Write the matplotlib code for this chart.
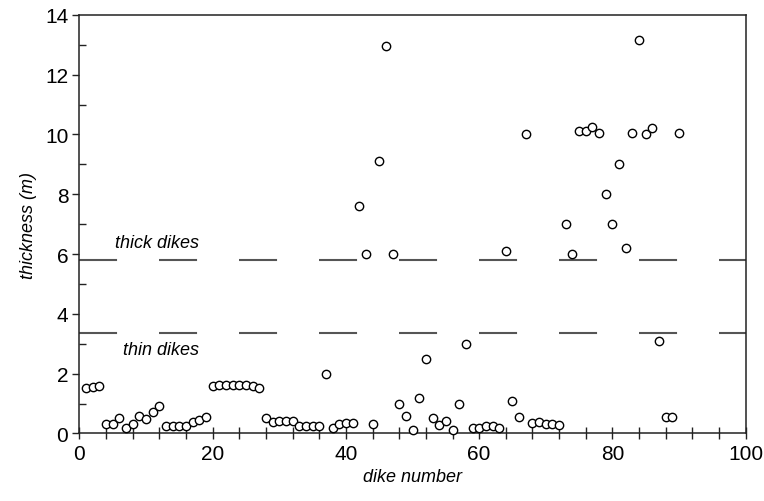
import matplotlib.pyplot as plt
from matplotlib.ticker import MultipleLocator
import numpy as np

plt.rcParams['font.family'] = ['Liberation Sans', 'DejaVu Sans']
plt.rcParams['lines.scale_dashes'] = False

# thickness (m) of dikes 1..90
dike_number = np.arange(1, 91)
thickness = [
    1.51, 1.54, 1.60, 0.32, 0.32, 0.51, 0.18, 0.32, 0.60, 0.48,   # 1-10
    0.71, 0.91, 0.24, 0.25, 0.25, 0.24, 0.37, 0.45, 0.56, 1.60,   # 11-20
    1.62, 1.63, 1.63, 1.62, 1.61, 1.60, 1.51, 0.51, 0.40, 0.42,   # 21-30
    0.43, 0.43, 0.24, 0.24, 0.24, 0.24, 2.00, 0.17, 0.32, 0.34,   # 31-40
    0.35, 7.60, 6.00, 0.32, 9.10, 12.95, 6.00, 1.00, 0.60, 0.10,  # 41-50
    1.20, 2.50, 0.51, 0.28, 0.42, 0.10, 1.00, 3.00, 0.17, 0.20,   # 51-60
    0.26, 0.26, 0.18, 6.10, 1.10, 0.54, 10.0, 0.35, 0.37, 0.32,   # 61-70
    0.32, 0.28, 7.00, 6.00, 10.1, 10.1, 10.25, 10.06, 8.02, 7.00,  # 71-80
    9.00, 6.20, 10.06, 13.16, 10.0, 10.2, 3.10, 0.55, 0.55, 10.06, # 81-90
]

# class boundaries
thick_limit = 5.8
thin_limit = 3.35

fig = plt.figure(figsize=(7.64, 5.02), dpi=100)
ax = fig.add_axes([0.104, 0.1345, 0.872, 0.834])

ax.axhline(thick_limit, color='#555555', lw=1.5, linestyle=(0, (27.4, 30.2)), zorder=1)
ax.axhline(thin_limit, color='#555555', lw=1.5, linestyle=(0, (27.4, 30.2)), zorder=1)

ax.plot(dike_number, thickness, 'o', ms=6, mfc='white', mec='black', mew=1.0,
        linestyle='none', zorder=3, clip_on=False)

ax.text(5.4, 6.4, 'thick dikes', style='italic', fontsize=13, ha='left', va='center')
ax.text(6.6, 2.8, 'thin dikes', style='italic', fontsize=13, ha='left', va='center')

ax.set_xlim(0, 100)
ax.set_ylim(0, 14)
ax.xaxis.set_major_locator(MultipleLocator(20))
ax.xaxis.set_minor_locator(MultipleLocator(4))
ax.yaxis.set_major_locator(MultipleLocator(2))
ax.yaxis.set_minor_locator(MultipleLocator(1))
ax.tick_params(axis='x', which='both', direction='inout', length=9, width=1.0,
               color='#222222', labelsize=15, pad=3)
ax.tick_params(axis='y', which='major', direction='out', length=5, width=1.0,
               color='#222222', labelsize=15, pad=3)
ax.tick_params(axis='y', which='minor', direction='in', length=5, width=1.0,
               color='#222222')

for s in ax.spines.values():
    s.set_linewidth(1.1)
    s.set_color('#222222')

ax.set_xlabel('dike number', style='italic', fontsize=13, labelpad=4)
ax.set_ylabel('thickness (m)', style='italic', fontsize=13, labelpad=6)

fig.savefig('out.png', dpi=100)
